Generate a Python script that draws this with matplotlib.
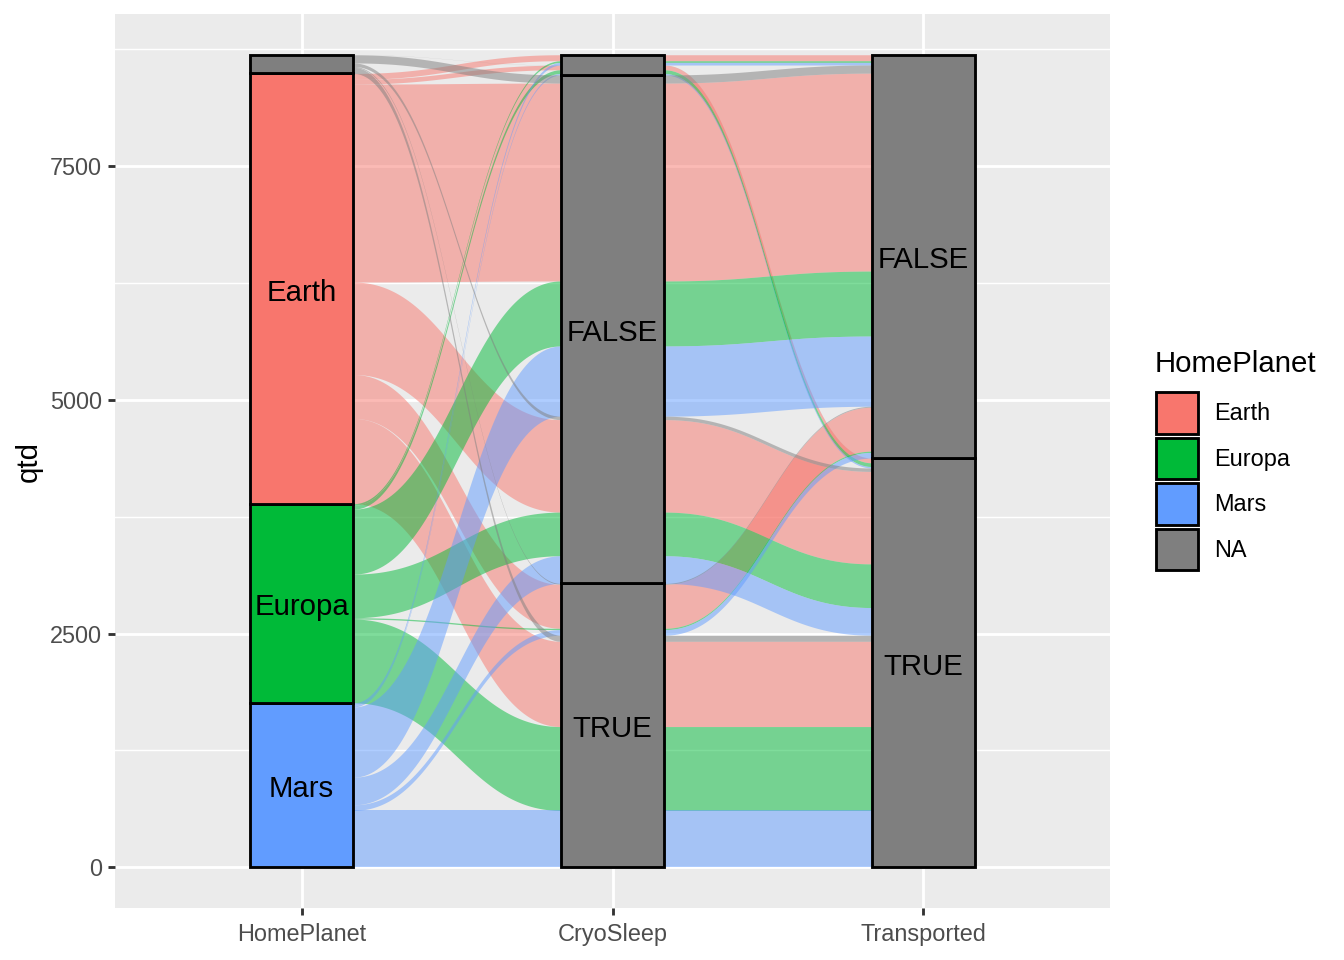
import matplotlib.pyplot as plt
import numpy as np
from matplotlib.patches import Rectangle, Patch
from matplotlib.transforms import offset_copy

plt.rcParams['font.family'] = ['Liberation Sans', 'DejaVu Sans']

# alluvia: one row per HomePlanet x CryoSleep x Transported combination
home_planet = ['Earth'] * 6 + ['Europa'] * 6 + ['Mars'] * 6 + ['NA'] * 6
cryo_sleep = ['TRUE', 'TRUE', 'FALSE', 'FALSE', 'NA', 'NA'] * 4
transported = ['TRUE', 'FALSE'] * 12
qtd = [912, 470, 989, 2117, 50, 64,
       897, 14, 467, 695, 40, 18,
       609, 60, 296, 751, 15, 28,
       65, 10, 37, 87, 1, 1]

axis_names = ['HomePlanet', 'CryoSleep', 'Transported']
# stratum order, bottom to top
home_levels = ['Mars', 'Europa', 'Earth', 'NA']
cryo_levels = ['TRUE', 'FALSE', 'NA']
trans_levels = ['TRUE', 'FALSE']

fill_colors = {'Earth': '#F8766D', 'Europa': '#00BA38', 'Mars': '#619CFF', 'NA': '#7F7F7F'}
legend_order = ['Earth', 'Europa', 'Mars', 'NA']

n = len(qtd)
q = np.array(qtd, dtype=float)
rh = np.array([home_levels.index(v) for v in home_planet])
rc = np.array([cryo_levels.index(v) for v in cryo_sleep])
rt = np.array([trans_levels.index(v) for v in transported])


def lode_positions(keys):
    # sort by the keys (first key = own stratum), stack in that order
    order = np.lexsort(keys[::-1])
    lo = np.zeros(n)
    hi = np.zeros(n)
    cum = 0.0
    for i in order:
        lo[i] = cum
        cum += q[i]
        hi[i] = cum
    return lo, hi


pos = [lode_positions([rh, rc, rt]),
       lode_positions([rc, rt, rh]),
       lode_positions([rt, rc, rh])]

w = 1 / 3
xs = [1, 2, 3]
k = 0.45
t = np.linspace(0, 1, 80)


def bezier(a, b, ca, cb):
    return (1 - t) ** 3 * a + 3 * (1 - t) ** 2 * t * ca + 3 * (1 - t) * t ** 2 * cb + t ** 3 * b


fig = plt.figure(figsize=(7, 5), dpi=192)
ax = fig.add_axes([115 / 1344, 1 - 908 / 960, (1110 - 115) / 1344, (908 - 14) / 960])
ax.set_facecolor('#EBEBEB')

for yv in [1250, 3750, 6250, 8750]:
    ax.axhline(yv, color='white', lw=0.53, zorder=0)
for yv in [0, 2500, 5000, 7500]:
    ax.axhline(yv, color='white', lw=1.07, zorder=0)
for xv in xs:
    ax.axvline(xv, color='white', lw=1.07, zorder=0)

# flows
draw_rank = {'Earth': 0, 'Europa': 1, 'Mars': 2, 'NA': 3}
for i in sorted(range(n), key=lambda j: draw_rank[home_planet[j]]):
    xx, ylo, yhi = [], [], []
    for a in range(3):
        lo, hi = pos[a][0][i], pos[a][1][i]
        xx += [xs[a] - w / 2, xs[a] + w / 2]
        ylo += [lo, lo]
        yhi += [hi, hi]
        if a < 2:
            xa, xb = xs[a] + w / 2, xs[a + 1] - w / 2
            g = xb - xa
            bx = bezier(xa, xb, xa + k * g, xb - k * g)
            lo2, hi2 = pos[a + 1][0][i], pos[a + 1][1][i]
            xx += list(bx)
            ylo += list(bezier(lo, lo2, lo, lo2))
            yhi += list(bezier(hi, hi2, hi, hi2))
    ax.fill_between(xx, ylo, yhi, color=fill_colors[home_planet[i]], alpha=0.5,
                    lw=0, zorder=2)

# strata
ranks = [rh, rc, rt]
levels = [home_levels, cryo_levels, trans_levels]
text_tr = offset_copy(ax.transData, fig=fig, y=-1.5, units='points')
for a in range(3):
    base = 0.0
    for li, lev in enumerate(levels[a]):
        tot = q[ranks[a] == li].sum()
        if tot == 0:
            continue
        fc = fill_colors[lev] if a == 0 else '#7F7F7F'
        ax.add_patch(Rectangle((xs[a] - w / 2, base), w, tot, facecolor=fc,
                               edgecolor='black', lw=1.07, zorder=3))
        if lev != 'NA':
            ax.text(xs[a], base + tot / 2, lev, ha='center', va='center',
                    fontsize=11, color='black', zorder=4, transform=text_tr)
        base += tot

total = q.sum()
ax.set_xlim(0.4, 3.6)
ax.set_ylim(-0.05 * total, total * 1.05)
ax.set_xticks(xs)
ax.set_xticklabels(axis_names)
ax.set_yticks([0, 2500, 5000, 7500])
ax.set_yticklabels(['0', '2500', '5000', '7500'])
ax.tick_params(length=2.75, width=1.07, color='#333333', labelsize=8.8,
               labelcolor='#4D4D4D', pad=2.2)
ax.tick_params(axis='x', pad=2.9)
for s in ax.spines.values():
    s.set_visible(False)
ax.set_ylabel('qtd', fontsize=11, color='black', labelpad=2.75)

# legend
fig.text(1155 / 1344, 1 - 364 / 960, 'HomePlanet', fontsize=11, va='center', ha='left')
handles = [Patch(facecolor=fill_colors[h], edgecolor='black', lw=1.07) for h in legend_order]
fig.legend(handles, legend_order, loc='upper left',
           bbox_to_anchor=(1156 / 1344, 1 - 392 / 960), frameon=False,
           fontsize=8.8, handlelength=1.79, handleheight=2.35,
           labelspacing=0.17, handletextpad=0.7, borderpad=0, borderaxespad=0)

fig.savefig('out.png', dpi=192)
